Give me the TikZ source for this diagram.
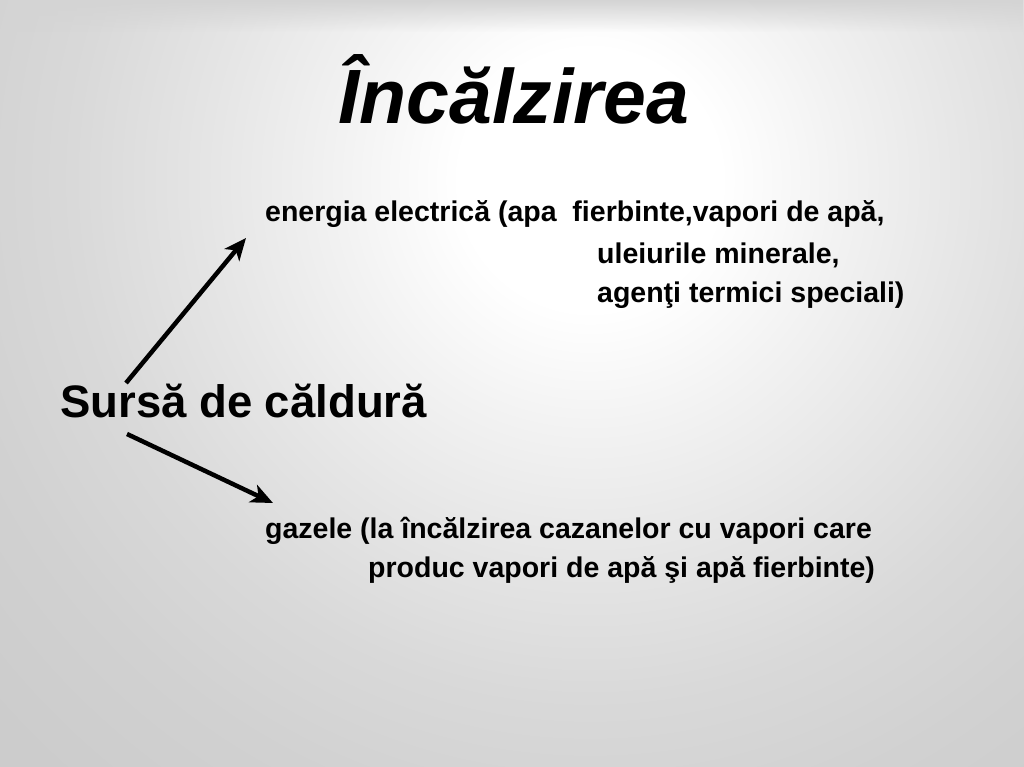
\documentclass[tikz,border=0pt]{standalone}
\usepackage{fontspec}
\setmainfont{Liberation Sans}
\usetikzlibrary{arrows.meta,fadings}
\pgfdeclareradialshading{bgshade}{\pgfpoint{0bp}{0bp}}{color(0bp)=(white); color(3.25bp)=(white); color(6.25bp)=(black!5); color(9.5bp)=(black!10); color(13bp)=(black!15); color(16.25bp)=(black!18); color(20bp)=(black!20); color(25bp)=(black!21); color(50bp)=(black!21)}
\begin{document}
\begin{tikzpicture}[x=1pt,y=-1pt,
  txt/.style={anchor=base west, inner sep=0pt, font=\fontsize{28.5}{34}\selectfont\bfseries},
  bigtxt/.style={anchor=base west, inner sep=0pt, font=\fontsize{45.5}{52}\selectfont\bfseries},
  titletxt/.style={anchor=base west, inner sep=0pt, font=\fontsize{77}{84}\selectfont\bfseries\itshape},
  arr/.style={line width=4.5pt, -{Stealth[length=22pt,width=19pt,inset=6pt]}}]
\useasboundingbox (0,0) rectangle (1024,767);
\fill[black!21] (0,0) rectangle (1024,767);
\begin{scope}
  \clip (0,0) rectangle (1024,767);
  \shade[shading=bgshade] (590,180) circle[radius=1000pt];
  \fill[black!17, path fading=south] (0,0) rectangle (1024,32);
\end{scope}

\node[titletxt] (title) at (338,124) {Încălzirea};
\node[txt] (e1) at (265,222) {energia electrică (apa\ \ fierbinte,vapori de apă,};
\node[txt] (e2) at (597,263) {uleiurile minerale,};
\node[txt] (e3) at (597,302) {agenţi termici speciali)};
\node[bigtxt] (src) at (60,417) {Sursă de căldură};
\node[txt] (g1) at (265,538) {gazele (la încălzirea cazanelor cu vapori care};
\node[txt] (g2) at (368,577) {produc vapori de apă şi apă fierbinte)};

\coordinate (a1s) at (126,383);
\coordinate (a1e) at (246,238);
\coordinate (a2s) at (127,434);
\coordinate (a2e) at (273,503);
\draw[arr] (a1s) -- (a1e);
\draw[arr] (a2s) -- (a2e);
\end{tikzpicture}
\end{document}
